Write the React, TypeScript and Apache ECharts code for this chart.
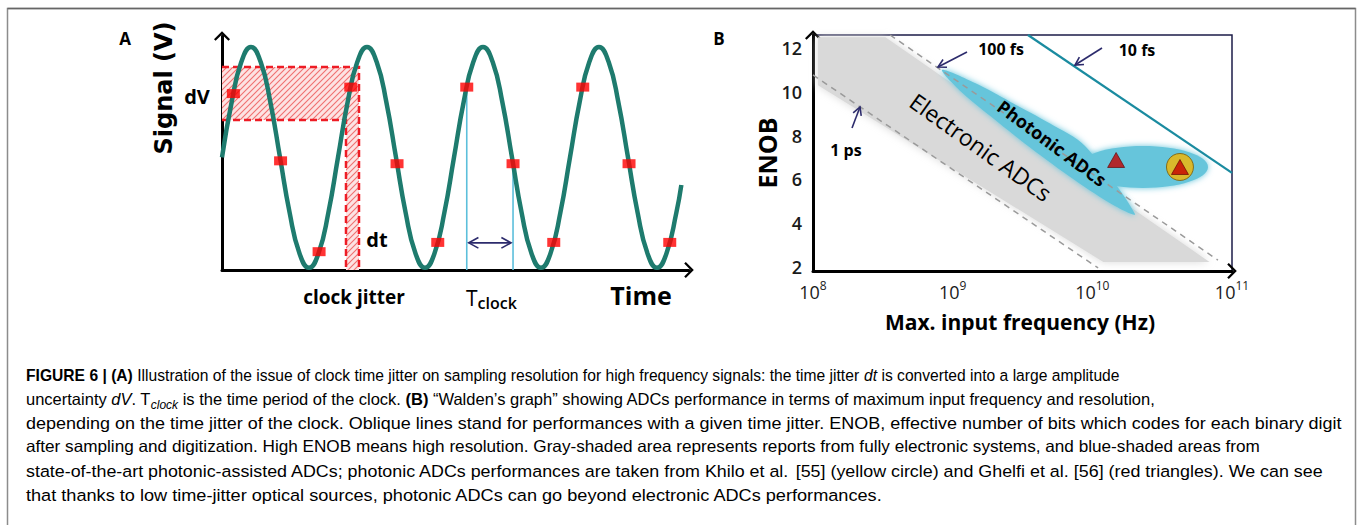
import React, { useEffect, useRef } from "react";
import * as echarts from "echarts";

// ---------- Panel A (schematic signal, time in signal periods, amplitude normalised) ----------
const SIGNAL_T = [
  0, 0.083, 0.167, 0.25, 0.333, 0.417, 0.5, 0.583, 0.667, 0.75, 0.833, 0.917,
  1, 1.083, 1.167, 1.25, 1.333, 1.417, 1.5, 1.583, 1.667, 1.75, 1.833, 1.917,
  2, 2.083, 2.167, 2.25, 2.333, 2.417, 2.5, 2.583, 2.667, 2.75, 2.833, 2.917,
  3, 3.083, 3.167, 3.25, 3.333, 3.417, 3.5, 3.583, 3.667, 3.75, 3.833, 3.917, 3.96,
];
const SIGNAL_V = [
  0, 0.5, 0.866, 1, 0.866, 0.5, 0, -0.5, -0.866, -1, -0.866, -0.5,
  0, 0.5, 0.866, 1, 0.866, 0.5, 0, -0.5, -0.866, -1, -0.866, -0.5,
  0, 0.5, 0.866, 1, 0.866, 0.5, 0, -0.5, -0.866, -1, -0.866, -0.5,
  0, 0.5, 0.866, 1, 0.866, 0.5, 0, -0.5, -0.866, -1, -0.866, -0.5, -0.25,
];
const SAMPLE_T = [0.098, 0.505, 0.837, 1.11, 1.509, 1.86, 2.11, 2.509, 2.86, 3.11, 3.509, 3.86];
const SAMPLE_V = [0.578, -0.031, -0.854, 0.637, -0.057, -0.77, 0.637, -0.057, -0.77, 0.637, -0.057, -0.77];
const DV_RANGE = [0.339, 0.819];
const DT_RANGE = [1.069, 1.181];
const TCLOCK_T = [2.11, 2.509];
const TCLOCK_V = [0.637, -0.057];
const TCLOCK_ARROW_V = -0.774;
const A_X = [0, 4.026];
const A_Y = [-1.02, 1.1];

// ---------- Panel B (Walden's graph) ----------
const ENOB_TICKS = [2, 4, 6, 8, 10, 12];
const FREQ_RANGE = [1e8, 1e11];
const ENOB_RANGE = [1.8, 12.6];
const JITTER_1PS = [[1e8, 10.77], [1.1e10, 1.94]];
const JITTER_100FS = [[3.56e8, 12.6], [7.93e10, 2.3]];
const JITTER_10FS = [[3.46e9, 12.6], [1e11, 6.29]];
const ELECTRONIC_F = [1.086e8, 3.3e8, 6.9e10, 1.2e10, 1.086e8];
const ELECTRONIC_E = [12.5, 12.5, 2.21, 2.21, 10.3];
const PHOTONIC_F = [8.39e8, 1.445e9, 2.574e9, 4.98e9, 8.86e9, 2.02e10, 1.453e10, 7.51e9, 3.58e9, 1.85e9, 1.128e9];
const PHOTONIC_E = [11.0, 10.4, 9.55, 8.55, 7.52, 4.41, 4.77, 5.95, 7.45, 8.9, 10.05];
const PHOTONIC_BLOB_F = [7.89e9, 2.305e10, 6.73e10];
const PHOTONIC_BLOB_E = [5.6, 6.56, 7.52];
const GHELFI = [[1.48e10, 6.88], [4.24e10, 6.56]];
const KHILO = [[4.24e10, 6.56]];

const CAPTION = [
  "{b|FIGURE 6 | (A)} Illustration of the issue of clock time jitter on sampling resolution for high frequency signals: the time jitter {i|dt} is converted into a large amplitude",
  "uncertainty {i|dV}. T{sub|clock} is the time period of the clock. {b|(B)} “Walden’s graph” showing ADCs performance in terms of maximum input frequency and resolution,",
  "depending on the time jitter of the clock. Oblique lines stand for performances with a given time jitter. ENOB, effective number of bits which codes for each binary digit",
  "after sampling and digitization. High ENOB means high resolution. Gray-shaded area represents reports from fully electronic systems, and blue-shaded areas from",
  "state-of-the-art photonic-assisted ADCs; photonic ADCs performances are taken from Khilo et al. {g|[55]} (yellow circle) and Ghelfi et al. {g|[56]} (red triangles). We can see",
  "that thanks to low time-jitter optical sources, photonic ADCs can go beyond electronic ADCs performances.",
];
const CAPTION_STRETCH = [0.948, 1.0, 1.09, 1.04, 1.083, 1.1];

const CHEVRON = "path://M10 0 L20 10 L18 12 L10 4 L2 12 L0 10 Z";
const NAVY = "#2c2b6c";
const LABEL_FONT = "Open Sans";

function makeHatch() {
  const c = document.createElement("canvas");
  c.width = 6;
  c.height = 6;
  const ctx = c.getContext("2d");
  if (!ctx) return "#f7c4c4";
  ctx.fillStyle = "#fde3e3";
  ctx.fillRect(0, 0, 6, 6);
  ctx.strokeStyle = "#f07070";
  ctx.lineWidth = 1.1;
  ctx.beginPath();
  ctx.moveTo(-1, 7); ctx.lineTo(7, -1);
  ctx.moveTo(-1, 1); ctx.lineTo(1, -1);
  ctx.moveTo(5, 7); ctx.lineTo(7, 5);
  ctx.stroke();
  return { image: c.toDataURL(), repeat: "repeat", imageWidth: 6, imageHeight: 6 } as any;
}

function arrowShapes(x1: number, y1: number, x2: number, y2: number, color: string, both = false, head = 9, width = 1.6) {
  const mk = (tx: number, ty: number, fx: number, fy: number) => {
    const a = Math.atan2(fy - ty, fx - tx);
    const s = 0.5;
    return {
      type: "polyline",
      shape: {
        points: [
          [tx + head * Math.cos(a + s), ty + head * Math.sin(a + s)],
          [tx, ty],
          [tx + head * Math.cos(a - s), ty + head * Math.sin(a - s)],
        ],
      },
      style: { stroke: color, lineWidth: width, fill: null },
      z: 100,
    };
  };
  const out: any[] = [
    { type: "line", shape: { x1, y1, x2, y2 }, style: { stroke: color, lineWidth: width }, z: 100 },
    mk(x2, y2, x1, y1),
  ];
  if (both) out.push(mk(x1, y1, x2, y2));
  return out;
}

function txt(x: number, y: number, text: string, style: any, rotation = 0) {
  return {
    type: "text",
    x,
    y,
    rotation,
    z: 100,
    style: { text, align: "center", verticalAlign: "middle", fontFamily: LABEL_FONT, ...style },
  };
}

export default function App() {
  const ref = useRef<HTMLDivElement>(null);
  useEffect(() => {
    if (!ref.current) return;
    const chart = echarts.init(ref.current, null, { renderer: "svg" });
    const hatch = makeHatch();
    const capStyle = { fontFamily: "Liberation Sans", fontSize: 16.5, color: "#333", lineHeight: 24 };

    const graphic: any[] = [
      { type: "rect", shape: { x: 7.5, y: 8.5, width: 1348, height: 530 }, style: { fill: null, stroke: "#8c8c8c", lineWidth: 1.5 }, z: 100 },
      { type: "line", shape: { x1: 7.5, y1: 8.5, x2: 1355.5, y2: 8.5 }, style: { stroke: "#666", lineWidth: 1.5 }, z: 100 },
      txt(125, 38, "A", { fontSize: 17, fontWeight: "bold", color: "#111" }),
      txt(719, 38, "B", { fontSize: 17, fontWeight: "bold", color: "#111" }),
      txt(164, 88, "Signal (V)", { fontSize: 24, fontWeight: "bold", color: "#111", fontFamily: "DejaVu Sans" }, Math.PI / 2),
      txt(197, 96, "dV", { fontSize: 20, fontWeight: "bold", color: "#e8191f" }),
      txt(377, 239, "dt", { fontSize: 20, fontWeight: "bold", color: "#e8191f" }),
      txt(354, 297, "clock jitter", { fontSize: 19, fontWeight: "bold", color: "#c0121a" }),
      {
        type: "text", x: 466, y: 298, z: 100,
        style: {
          text: "{t|T}{c|clock}", verticalAlign: "middle", align: "left",
          rich: {
            t: { fontFamily: LABEL_FONT, fontSize: 21, color: NAVY, lineHeight: 26, verticalAlign: "middle" },
            c: { fontFamily: LABEL_FONT, fontSize: 16, fontWeight: 600, color: NAVY, lineHeight: 16, verticalAlign: "bottom" },
          },
        },
      },
      txt(641, 295, "Time", { fontSize: 25, fontWeight: "bold", color: "#111" }),
      txt(767, 153, "ENOB", { fontSize: 25, fontWeight: "bold", color: "#111" }, Math.PI / 2),
      txt(1020, 322, "Max. input frequency (Hz)", { fontSize: 21, fontWeight: "bold", color: "#111" }),
      txt(1001, 49, "100 fs", { fontSize: 16, fontWeight: "bold", color: NAVY }),
      txt(1137, 50, "10 fs", { fontSize: 16, fontWeight: "bold", color: NAVY }),
      txt(846, 150, "1 ps", { fontSize: 16, fontWeight: "bold", color: NAVY }),
      txt(981, 147, "Electronic ADCs", { fontSize: 23, color: "#3a3a5c" }, -0.62),
      txt(1052, 143, "Photonic ADCs", { fontSize: 18, fontWeight: "bold", color: NAVY }, -0.64),
      ...arrowShapes(967, 52, 938, 67, NAVY),
      ...arrowShapes(1102, 48, 1075, 65, NAVY),
      ...arrowShapes(852, 128, 860, 107, NAVY),
    ];
    CAPTION.forEach((line, i) => {
      graphic.push({
        type: "text", x: 26, y: 375 + i * 24, z: 100, scaleX: CAPTION_STRETCH[i],
        style: {
          text: line, align: "left", verticalAlign: "middle", ...capStyle,
          rich: {
            b: { ...capStyle, fontWeight: "bold", color: "#222" },
            i: { ...capStyle, fontStyle: "italic" },
            g: { ...capStyle, color: "#999" },
            sub: { ...capStyle, fontSize: 12, lineHeight: 12, fontStyle: "italic", verticalAlign: "bottom" },
          },
        },
      });
    });

    const dashRed = { stroke: "#ee1c25", lineWidth: 2.5, lineDash: [7, 4], fill: null };

    const option: any = {
      animation: false,
      backgroundColor: "#fff",
      grid: [
        { left: 222, top: 36, width: 467, height: 234 },
        { left: 813, top: 35, width: 419, height: 236, show: true, borderColor: "#1d1c48", borderWidth: 1.5, backgroundColor: "transparent" },
      ],
      xAxis: [
        {
          gridIndex: 0, type: "value", min: A_X[0], max: A_X[1],
          axisLine: { onZero: false, lineStyle: { color: "#000", width: 3 }, symbol: ["none", CHEVRON], symbolSize: [16, 10] },
          axisTick: { show: false }, axisLabel: { show: false }, splitLine: { show: false },
        },
        {
          gridIndex: 1, type: "log", logBase: 10, min: FREQ_RANGE[0], max: FREQ_RANGE[1],
          axisLine: { onZero: false, lineStyle: { color: "#000", width: 3 }, symbol: ["none", CHEVRON], symbolSize: [16, 10] },
          axisTick: { show: false }, splitLine: { show: false }, minorTick: { show: false },
          axisLabel: {
            margin: 8,
            formatter: (v: number) => `{b|10}{s|${Math.round(Math.log10(v))}}`,
            rich: {
              b: { fontFamily: LABEL_FONT, fontSize: 18, color: "#1a1a1a", lineHeight: 22, verticalAlign: "bottom" },
              s: { fontFamily: LABEL_FONT, fontSize: 12, color: "#1a1a1a", lineHeight: 12, verticalAlign: "top" },
            },
          },
        },
      ],
      yAxis: [
        {
          gridIndex: 0, type: "value", min: A_Y[0], max: A_Y[1],
          axisLine: { onZero: false, lineStyle: { color: "#000", width: 3 }, symbol: ["none", CHEVRON], symbolSize: [16, 10] },
          axisTick: { show: false }, axisLabel: { show: false }, splitLine: { show: false },
        },
        {
          gridIndex: 1, type: "value", min: ENOB_RANGE[0], max: ENOB_RANGE[1],
          axisLine: { onZero: false, lineStyle: { color: "#000", width: 3 }, symbol: ["none", CHEVRON], symbolSize: [16, 10] },
          axisTick: { show: false }, splitLine: { show: false },
          axisLabel: { customValues: ENOB_TICKS, fontFamily: LABEL_FONT, fontSize: 18, fontWeight: 600, color: "#1a1a1a", margin: 11 },
        },
      ],
      series: [
        // ----- Panel A -----
        {
          type: "custom", xAxisIndex: 0, yAxisIndex: 0, z: 1, data: [[1, 0]],
          renderItem: (_p: any, api: any) => {
            const pA = api.coord([A_X[0], DV_RANGE[1]]);
            const pB = api.coord([DT_RANGE[1], DV_RANGE[1]]);
            const pC = api.coord([DT_RANGE[1], A_Y[0]]);
            const pD = api.coord([DT_RANGE[0], A_Y[0]]);
            const pE = api.coord([DT_RANGE[0], DV_RANGE[0]]);
            const pF = api.coord([A_X[0], DV_RANGE[0]]);
            return {
              type: "group",
              children: [
                { type: "polygon", shape: { points: [pA, pB, pC, pD, pE, pF] }, style: { fill: hatch } },
                { type: "polyline", shape: { points: [pA, pB, pC] }, style: dashRed },
                { type: "polyline", shape: { points: [pF, pE, pD] }, style: dashRed },
              ],
            };
          },
        },
        {
          type: "custom", xAxisIndex: 0, yAxisIndex: 0, z: 1, data: [[1, 0]],
          renderItem: (_p: any, api: any) => {
            const children: any[] = TCLOCK_T.map((t, i) => {
              const a = api.coord([t, TCLOCK_V[i]]);
              const b = api.coord([t, A_Y[0]]);
              return { type: "line", shape: { x1: a[0], y1: a[1], x2: b[0], y2: b[1] }, style: { stroke: "#5cbfdb", lineWidth: 1.6 } };
            });
            const l = api.coord([TCLOCK_T[0], TCLOCK_ARROW_V]);
            const r = api.coord([TCLOCK_T[1], TCLOCK_ARROW_V]);
            arrowShapes(l[0] + 2, l[1], r[0] - 2, r[1], NAVY, true, 11, 1.6).forEach((s) => children.push(s));
            return { type: "group", children };
          },
        },
        {
          type: "line", xAxisIndex: 0, yAxisIndex: 0, z: 3, smooth: 0.5, showSymbol: false,
          lineStyle: { color: "#1e7b6e", width: 4.5 },
          data: SIGNAL_T.map((t, i) => [t, SIGNAL_V[i]]),
        },
        {
          type: "scatter", xAxisIndex: 0, yAxisIndex: 0, z: 5, symbol: "rect", symbolSize: [13, 9],
          itemStyle: { color: "#ff0000" },
          data: SAMPLE_T.map((t, i) => [t, SAMPLE_V[i]]),
        },
        // ----- Panel B -----
        {
          type: "custom", xAxisIndex: 1, yAxisIndex: 1, z: 1, data: [[1e9, 5]],
          renderItem: (_p: any, api: any) => ({
            type: "polygon",
            shape: { points: ELECTRONIC_F.map((f, i) => api.coord([f, ELECTRONIC_E[i]])) },
            style: { fill: "#d9d9d9", shadowBlur: 8, shadowColor: "#d9d9d9" },
          }),
        },
        {
          type: "custom", xAxisIndex: 1, yAxisIndex: 1, z: 2, data: [[1e9, 5]],
          renderItem: (_p: any, api: any) => {
            const l = api.coord([PHOTONIC_BLOB_F[0], PHOTONIC_BLOB_E[1]]);
            const c = api.coord([PHOTONIC_BLOB_F[1], PHOTONIC_BLOB_E[1]]);
            const r = api.coord([PHOTONIC_BLOB_F[2], PHOTONIC_BLOB_E[1]]);
            const t = api.coord([PHOTONIC_BLOB_F[1], PHOTONIC_BLOB_E[2]]);
            const b = api.coord([PHOTONIC_BLOB_F[1], PHOTONIC_BLOB_E[0]]);
            const st = { fill: "#66c5db", shadowBlur: 6, shadowColor: "#66c5db" };
            return {
              type: "group",
              children: [
                { type: "polygon", shape: { points: PHOTONIC_F.map((f, i) => api.coord([f, PHOTONIC_E[i]])), smooth: 0.3 }, style: st },
                { type: "ellipse", shape: { cx: (l[0] + r[0]) / 2, cy: c[1], rx: (r[0] - l[0]) / 2, ry: (b[1] - t[1]) / 2 }, style: st },
              ],
            };
          },
        },
        ...[JITTER_1PS, JITTER_100FS].map((d) => ({
          type: "line", xAxisIndex: 1, yAxisIndex: 1, z: 3, showSymbol: false, data: d,
          lineStyle: { color: "#9a9a9a", width: 1.5, type: [6, 5] },
        })),
        {
          type: "line", xAxisIndex: 1, yAxisIndex: 1, z: 3, showSymbol: false, data: JITTER_10FS,
          lineStyle: { color: "#1a8ba0", width: 2.2 },
        },
        {
          type: "scatter", xAxisIndex: 1, yAxisIndex: 1, z: 4, symbol: "circle", symbolSize: 27, data: KHILO,
          itemStyle: { color: "#f6b500", borderColor: "#7a5800", borderWidth: 1 },
        },
        {
          type: "scatter", xAxisIndex: 1, yAxisIndex: 1, z: 5, symbol: "triangle", symbolSize: [17, 15], data: GHELFI,
          itemStyle: { color: "#c40000", borderColor: "#5a0000", borderWidth: 0.8 },
        },
      ],
      graphic,
    };
    chart.setOption(option);
    return () => chart.dispose();
  }, []);
  return <div ref={ref} style={{ position: "absolute", left: 0, top: 0, width: 1360, height: 525, background: "#fff" }} />;
}
